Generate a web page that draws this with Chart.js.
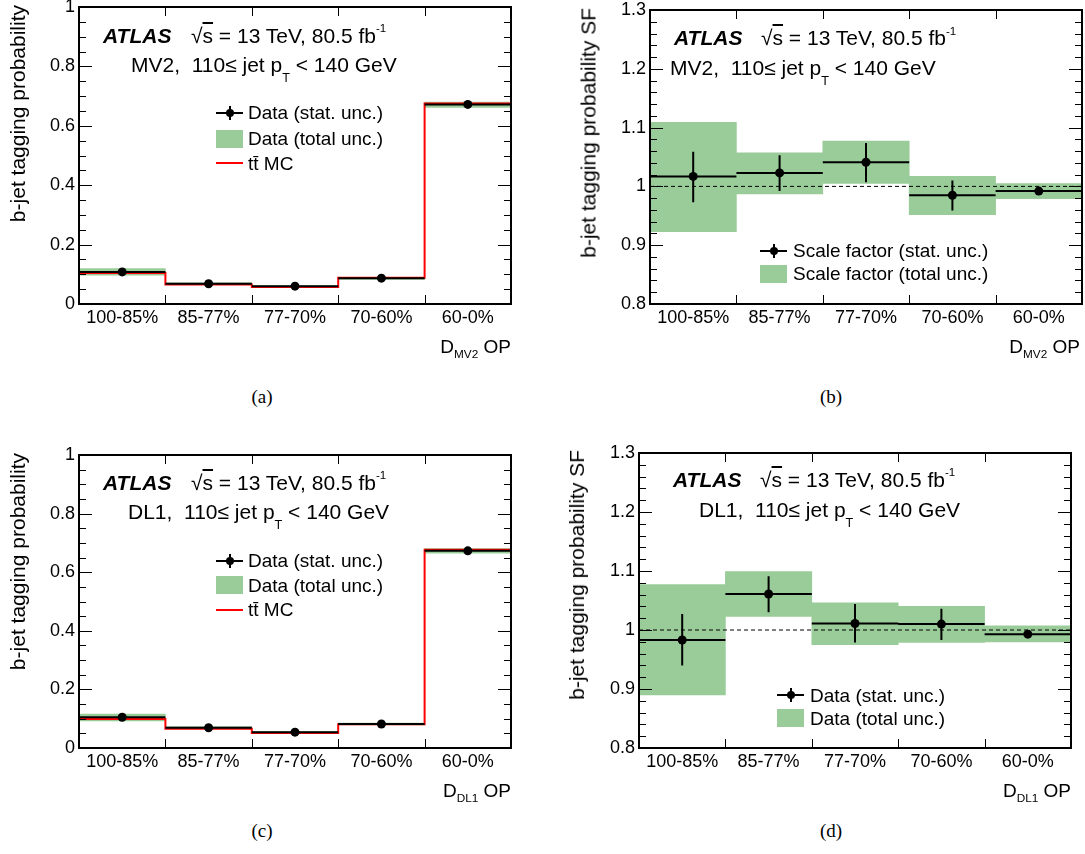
<!DOCTYPE html>
<html>
<head>
<meta charset="utf-8">
<script src="https://cdn.jsdelivr.net/npm/chart.js@4.4.1/dist/chart.umd.min.js"></script>
<style>
  body { margin: 0; background: #fff; }
  #fig { position: relative; width: 1085px; height: 854px; overflow: hidden;
         font-family: "Liberation Sans", Arial, sans-serif; color: #000; }
  #fig canvas { position: absolute; }
  .t { position: absolute; white-space: nowrap; line-height: 1; }
  .sub { font-size: 0.62em; position: relative; top: 0.45em; }
  .subT { font-size: 0.6em; position: relative; top: 0.8em; }
  .sup { font-size: 0.55em; position: relative; top: -0.9em; }
  .bx { position: absolute; }
</style>
</head>
<body>
<div id="fig"></div>
<script>
// ---- data ----
const opLabels = ['100-85%', '85-77%', '77-70%', '70-60%', '60-0%'];
const probTicks = [0, 0.2, 0.4, 0.6, 0.8, 1];
const sfTicks = [0.8, 0.9, 1, 1.1, 1.2, 1.3];

// (a) MV2 b-jet tagging probability
const mv2Prob       = [0.108, 0.068, 0.060, 0.087, 0.672];
const mv2ProbStatLo = [0.105, 0.066, 0.058, 0.085, 0.668];
const mv2ProbStatHi = [0.111, 0.070, 0.062, 0.089, 0.676];
const mv2ProbTotLo  = [0.097, 0.065, 0.057, 0.083, 0.662];
const mv2ProbTotHi  = [0.119, 0.071, 0.062, 0.090, 0.680];
const mv2Mc         = [0.104, 0.066, 0.057, 0.088, 0.675];

// (b) MV2 scale factor
const mv2Sf       = [1.017, 1.023, 1.041, 0.985, 0.992];
const mv2SfStatLo = [0.973, 0.992, 1.007, 0.959, 0.988];
const mv2SfStatHi = [1.059, 1.053, 1.074, 1.010, 0.996];
const mv2SfTotLo  = [0.923, 0.987, 1.005, 0.952, 0.979];
const mv2SfTotHi  = [1.109, 1.057, 1.077, 1.017, 1.005];

// (c) DL1 b-jet tagging probability
const dl1Prob       = [0.105, 0.069, 0.054, 0.082, 0.673];
const dl1ProbStatLo = [0.102, 0.067, 0.052, 0.080, 0.669];
const dl1ProbStatHi = [0.108, 0.071, 0.056, 0.084, 0.677];
const dl1ProbTotLo  = [0.092, 0.066, 0.051, 0.079, 0.665];
const dl1ProbTotHi  = [0.116, 0.073, 0.057, 0.085, 0.681];
const dl1Mc         = [0.099, 0.066, 0.051, 0.081, 0.677];

// (d) DL1 scale factor
const dl1Sf       = [0.983, 1.061, 1.011, 1.010, 0.993];
const dl1SfStatLo = [0.940, 1.030, 0.979, 0.983, 0.990];
const dl1SfStatHi = [1.027, 1.091, 1.044, 1.036, 0.997];
const dl1SfTotLo  = [0.890, 1.023, 0.975, 0.979, 0.980];
const dl1SfTotHi  = [1.077, 1.099, 1.046, 1.040, 1.007];

const probLegend = ['Data (stat. unc.)', 'Data (total unc.)', 't<span>t\u0304</span> MC'];
const mv2SfLegend = ['Scale factor (stat. unc.)', 'Scale factor (total unc.)'];
const dl1SfLegend = ['Data (stat. unc.)', 'Data (total unc.)'];

const GREEN = 'rgb(153,204,153)';
const FONT = '"Liberation Sans", Arial, sans-serif';
const fig = document.getElementById('fig');

// frame + ROOT style tick marks
const framePlugin = {
  id: 'frame',
  afterDatasetsDraw(chart, args, opts) {
    const { ctx, chartArea: a, scales: { x, y } } = chart;
    ctx.save();
    ctx.strokeStyle = '#000';
    ctx.lineWidth = 1;
    ctx.beginPath();
    for (let i = 1; i < opLabels.length; i++) {
      const px = Math.round(x.getPixelForValue(i)) + 0.5;
      ctx.moveTo(px, a.bottom); ctx.lineTo(px, a.bottom - 9);
      ctx.moveTo(px, a.top); ctx.lineTo(px, a.top + 9);
    }
    const n = Math.round((y.max - y.min) / opts.minor);
    const every = Math.round(opts.major / opts.minor);
    for (let k = 0; k <= n; k++) {
      const py = Math.round(y.getPixelForValue(y.min + k * opts.minor)) + 0.5;
      const len = k % every === 0 ? 13 : 7;
      ctx.moveTo(a.left, py); ctx.lineTo(a.left + len, py);
      ctx.moveTo(a.right, py); ctx.lineTo(a.right - len, py);
    }
    ctx.stroke();
    ctx.lineWidth = 2;
    ctx.strokeRect(a.left, a.top, a.right - a.left, a.bottom - a.top);
    ctx.restore();
  }
};

function makeChart(p) {
  const M = { l: 70, t: 15, r: 20, b: 40 };
  const [px, py, pw, ph] = p.plot;
  const cv = document.createElement('canvas');
  cv.width = pw + M.l + M.r;
  cv.height = ph + M.t + M.b;
  cv.style.left = (px - M.l) + 'px';
  cv.style.top = (py - M.t) + 'px';
  fig.appendChild(cv);

  const bins = opLabels.map((_, i) => i);
  const datasets = [];
  datasets.push({
    type: 'bar', order: 6,
    data: bins.map(i => ({ x: i + 0.5, y: [p.totLo[i], p.totHi[i]] })),
    backgroundColor: GREEN, borderWidth: 0, barPercentage: 1, categoryPercentage: 1
  });
  if (p.unity) {
    datasets.push({
      type: 'line', order: 5,
      data: [{ x: 0, y: 1 }, { x: opLabels.length, y: 1 }],
      borderColor: '#000', borderWidth: 1, borderDash: [4, 3], pointRadius: 0
    });
  }
  if (p.mc) {
    datasets.push({
      type: 'line', order: 4, stepped: true,
      data: bins.map(i => ({ x: i, y: p.mc[i] })).concat([{ x: opLabels.length, y: p.mc[p.mc.length - 1] }]),
      borderColor: '#ff0000', borderWidth: 2, pointRadius: 0
    });
  }
  datasets.push({
    type: 'line', order: 3, spanGaps: false,
    data: bins.flatMap(i => [{ x: i, y: p.val[i] }, { x: i + 1, y: p.val[i] }, { x: i + 1, y: null }]),
    borderColor: '#000', borderWidth: 2, pointRadius: 0
  });
  datasets.push({
    type: 'line', order: 2, spanGaps: false,
    data: bins.flatMap(i => [{ x: i + 0.5, y: p.statLo[i] }, { x: i + 0.5, y: p.statHi[i] }, { x: i + 0.5, y: null }]),
    borderColor: '#000', borderWidth: 2, pointRadius: 0
  });
  datasets.push({
    type: 'scatter', order: 1,
    data: bins.map(i => ({ x: i + 0.5, y: p.val[i] })),
    pointRadius: 4.5, backgroundColor: '#000', borderWidth: 0
  });

  new Chart(cv, {
    type: 'scatter',
    data: { datasets },
    plugins: [framePlugin],
    options: {
      responsive: false,
      animation: false,
      events: [],
      layout: { padding: { left: 0, top: M.t, right: M.r, bottom: 0 } },
      plugins: {
        legend: { display: false },
        tooltip: { enabled: false },
        frame: { major: p.major, minor: p.minor }
      },
      scales: {
        x: {
          type: 'linear', min: 0, max: opLabels.length, offset: false,
          grid: { display: false, drawTicks: false }, border: { display: false },
          afterBuildTicks: s => { s.ticks = bins.map(i => ({ value: i + 0.5 })); },
          afterFit: s => { s.height = M.b; },
          ticks: {
            autoSkip: false, maxRotation: 0, padding: 3, color: '#000',
            font: { family: FONT, size: 18 },
            callback: (v, i) => opLabels[i]
          }
        },
        y: {
          type: 'linear', min: p.yTicks[0], max: p.yTicks[p.yTicks.length - 1],
          grid: { display: false, drawTicks: false }, border: { display: false },
          afterBuildTicks: s => { s.ticks = p.yTicks.map(v => ({ value: v })); },
          afterFit: s => { s.width = M.l; },
          ticks: {
            padding: 4, color: '#000',
            font: { family: FONT, size: 18 },
            callback: (v, i) => String(p.yTicks[i])
          }
        }
      }
    }
  });
}

// ---- html text helpers ----
function addText(html, x, yc, size, align, extra) {
  const d = document.createElement('div');
  d.className = 't';
  d.innerHTML = html;
  d.style.fontSize = size + 'px';
  d.style.left = x + 'px';
  d.style.top = (yc - 0.49 * size) + 'px';
  if (align === 'right') d.style.transform = 'translateX(-100%)';
  if (align === 'center') d.style.transform = 'translateX(-50%)';
  if (extra) Object.assign(d.style, extra);
  fig.appendChild(d);
}
function addBox(x, y, w, h, color, radius) {
  const d = document.createElement('div');
  d.className = 'bx';
  Object.assign(d.style, { left: x + 'px', top: y + 'px', width: w + 'px', height: h + 'px', background: color });
  if (radius) d.style.borderRadius = '50%';
  fig.appendChild(d);
}
function addYTitle(text, cx, yTop) {
  const d = document.createElement('div');
  d.className = 't';
  d.textContent = text;
  d.style.fontSize = '21px';
  d.style.left = '0px';
  d.style.top = '0px';
  d.style.transformOrigin = '0 0';
  d.style.transform = `translate(${cx}px, ${yTop}px) rotate(-90deg) translate(-100%, -50%)`;
  fig.appendChild(d);
}
function addLegend(items, x, textX, rows) {
  items.forEach((kind, i) => {
    const yc = rows[i];
    if (kind === 'err') {
      addBox(x, yc - 1, 27, 2, '#000');
      addBox(x + 12.5, yc - 7, 2, 14, '#000');
      addBox(x + 9.5, yc - 4, 8, 8, '#000', true);
    } else if (kind === 'band') {
      addBox(x, yc - 9, 27, 18, GREEN);
    } else {
      addBox(x, yc - 1, 27, 2, '#ff0000');
    }
  });
}
function addHeader(x1, x2, y1, x3, y2, tagger) {
  addText('<b><i>ATLAS</i></b>', x1, y1, 21);
  addText('\u221A<span style="text-decoration:overline">s</span> = 13 TeV, 80.5 fb<span class="sup">-1</span>', x2, y1, 21);
  addText(tagger + ',&nbsp; 110\u2264 jet p<span class="subT">T</span> &lt; 140 GeV', x3, y2, 21);
}

// ---- panels ----
makeChart({ plot: [79, 7, 432, 297], yTicks: probTicks, major: 0.2, minor: 0.05,
  val: mv2Prob, statLo: mv2ProbStatLo, statHi: mv2ProbStatHi, totLo: mv2ProbTotLo, totHi: mv2ProbTotHi, mc: mv2Mc });
makeChart({ plot: [650, 10, 432, 294], yTicks: sfTicks, major: 0.1, minor: 0.02, unity: true,
  val: mv2Sf, statLo: mv2SfStatLo, statHi: mv2SfStatHi, totLo: mv2SfTotLo, totHi: mv2SfTotHi });
makeChart({ plot: [79, 455, 432, 293], yTicks: probTicks, major: 0.2, minor: 0.05,
  val: dl1Prob, statLo: dl1ProbStatLo, statHi: dl1ProbStatHi, totLo: dl1ProbTotLo, totHi: dl1ProbTotHi, mc: dl1Mc });
makeChart({ plot: [639, 453, 432, 295], yTicks: sfTicks, major: 0.1, minor: 0.02, unity: true,
  val: dl1Sf, statLo: dl1SfStatLo, statHi: dl1SfStatHi, totLo: dl1SfTotLo, totHi: dl1SfTotHi });

// (a)
addHeader(103, 191, 35, 131, 64.7, 'MV2');
addLegend(['err', 'band', 'mc'], 216, 248, [112.7, 138.7, 163.3]);
probLegend.forEach((s, i) => addText(s, 248, [112.7, 138.7, 163.3][i], 19));
addYTitle('b-jet tagging probability', 17, 5);
addText('D<span class="sub">MV2</span> OP', 511, 346, 19, 'right');
addText('(a)', 262, 396, 19, 'center', { fontFamily: '"Liberation Serif", serif' });

// (b)
addHeader(674, 761, 37.2, 670, 67.2, 'MV2');
addLegend(['err', 'band'], 760, 793, [250.7, 273.7]);
mv2SfLegend.forEach((s, i) => addText(s, 793, [250.7, 273.7][i], 19));
addYTitle('b-jet tagging probability SF', 588, 8);
addText('D<span class="sub">MV2</span> OP', 1080, 346, 19, 'right');
addText('(b)', 831, 396, 19, 'center', { fontFamily: '"Liberation Serif", serif' });

// (c)
addHeader(103, 191, 482, 128, 511, 'DL1');
addLegend(['err', 'band', 'mc'], 216, 248, [560.8, 585.2, 609.7]);
probLegend.forEach((s, i) => addText(s, 248, [560.8, 585.2, 609.7][i], 19));
addYTitle('b-jet tagging probability', 17, 453);
addText('D<span class="sub">DL1</span> OP', 511, 790, 19, 'right');
addText('(c)', 262, 830, 19, 'center', { fontFamily: '"Liberation Serif", serif' });

// (d)
addHeader(673, 760, 478.8, 699, 509, 'DL1');
addLegend(['err', 'band'], 777, 810, [695.3, 718.2]);
dl1SfLegend.forEach((s, i) => addText(s, 810, [695.3, 718.2][i], 19));
addYTitle('b-jet tagging probability SF', 576.5, 450);
addText('D<span class="sub">DL1</span> OP', 1071, 790, 19, 'right');
addText('(d)', 831, 830, 19, 'center', { fontFamily: '"Liberation Serif", serif' });
</script>
</body>
</html>
